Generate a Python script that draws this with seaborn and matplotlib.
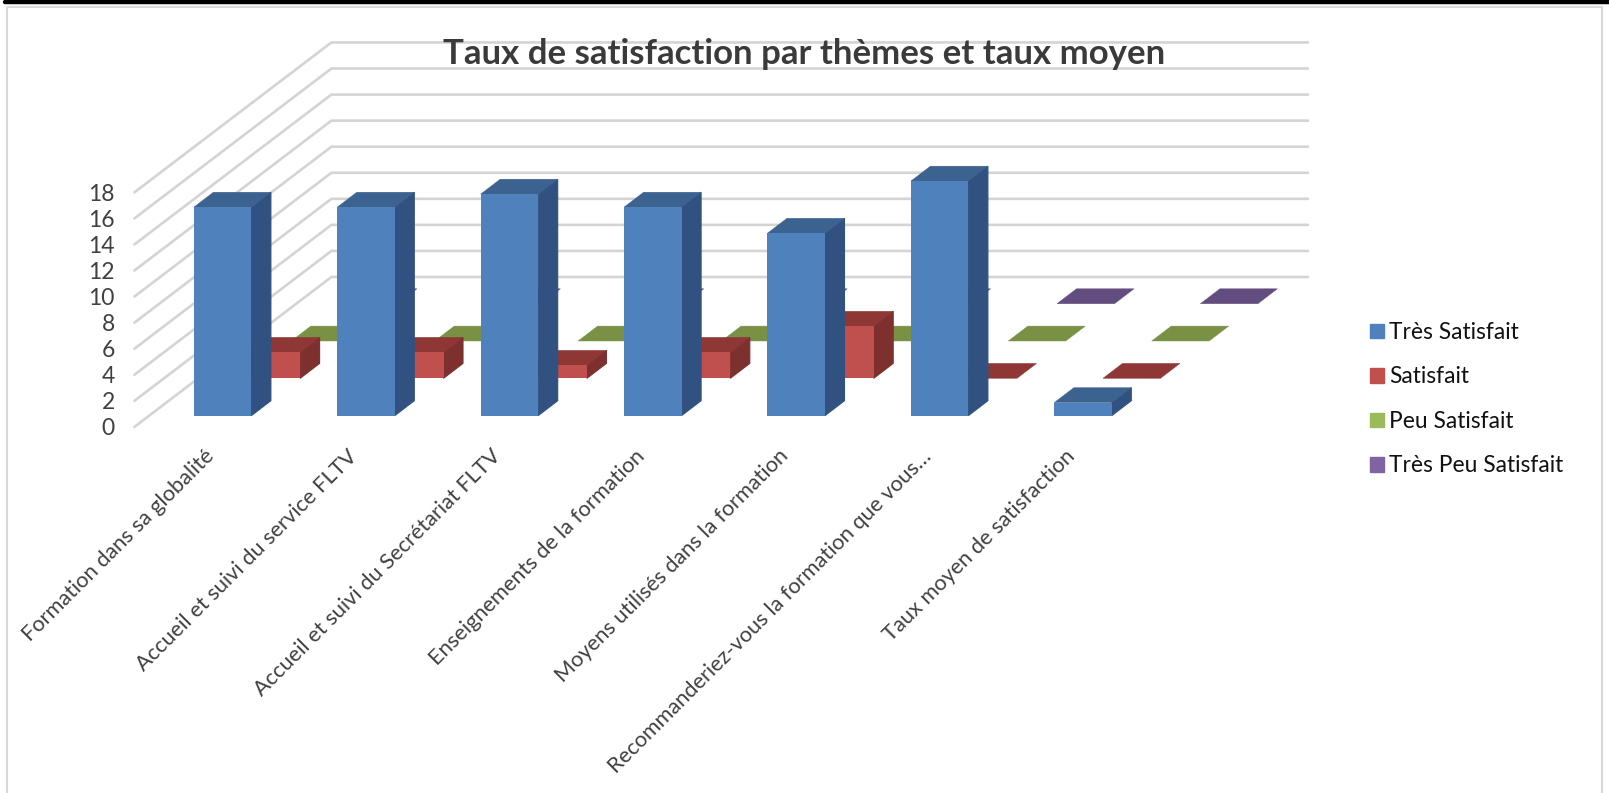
import pandas as pd
import seaborn as sns
import matplotlib
matplotlib.use("Agg")
import matplotlib.pyplot as plt
from matplotlib.patches import Patch

categories = [
    "Formation dans sa globalité",
    "Accueil et suivi du service FLTV",
    "Accueil et suivi du Secrétariat FLTV",
    "Enseignements de la formation",
    "Moyens utilisés dans la formation",
    "Recommanderiez-vous la formation que vous…",
    "Taux moyen de satisfaction",
]
series_names = ["Très Satisfait", "Satisfait", "Peu Satisfait", "Très Peu Satisfait"]
tres_satisfait = [16, 16, 17, 16, 14, 18, 1]
satisfait = [2, 2, 1, 2, 4, 0, 0]
peu_satisfait = [0, 0, 0, 0, 0, 0, 0]
tres_peu_satisfait = [0, 0, 0, 0, 0, 0, 0]
y_ticks = [0, 2, 4, 6, 8, 10, 12, 14, 16, 18]

front_colors = ["#4f81bd", "#c0504d", "#9bbb59", "#8064a2"]
top_colors = ["#3c6290", "#8e3735", "#7a9145", "#634d7e"]
side_colors = ["#315280", "#7d302e", "#66793a", "#54416b"]

W, H = 1609, 793
UNIT = 13.03       # px per value unit
STEP = 143.4       # px per category
BAR_W = 57.5
DEPTH_X, DEPTH_Y = 19.5, 14.9      # bar depth in px
SERIES_X, SERIES_Y = 48.7, 37.3    # shift between series rows


def px_axes(fig, left, top, width, height):
    ax = fig.add_axes([left / W, 1 - (top + height) / H, width / W, height / H])
    ax.patch.set_visible(False)
    sns.despine(ax=ax, left=True, bottom=True)
    return ax


def draw_series(fig, row, values):
    left = 222.65 - STEP / 2 + SERIES_X * row
    base = 415.6 - SERIES_Y * row
    ax = px_axes(fig, left, base - 18 * UNIT, 7 * STEP, 18 * UNIT)
    sns.barplot(x=categories, y=values, color=front_colors[row], saturation=1,
                width=BAR_W / STEP, ax=ax, linewidth=0, clip_on=False)
    ax.set_xlim(-0.5, 6.5)
    ax.set_ylim(0, 18)
    ax.set_yticks([])
    ax.set_ylabel("")
    ax.tick_params(axis="x", length=0)

    # fake the 3D look, right side and top of each bar
    dx = DEPTH_X / STEP
    dy = DEPTH_Y / UNIT
    for bar in list(ax.patches):
        x0 = bar.get_x()
        x1 = x0 + bar.get_width()
        h = bar.get_height()
        if h > 0:
            # thin edge closes the seam against the front face
            ax.fill([x1, x1 + dx, x1 + dx, x1], [0, dy, h + dy, h],
                    color=side_colors[row], lw=0.8, clip_on=False)
        ax.fill([x0, x1, x1 + dx, x0 + dx], [h, h, h + dy, h + dy],
                color=top_colors[row], lw=0.3, clip_on=False)
        bar.set_zorder(3)
    return ax


sns.set_style("white")
plt.rcParams["font.family"] = ["Lato", "DejaVu Sans"]

fig = plt.figure(figsize=(W / 100, H / 100), dpi=100)

# page frame
page = fig.add_axes([0, 0, 1, 1])
page.set_xlim(0, W)
page.set_ylim(H, 0)
page.axis("off")
page.plot([7, 7, 1602, 1602], [H, 7, 7, H], color="#d9d9d9", lw=1.5)
page.plot([5, W], [2, 2], color="black", lw=3.2)

# walls, gridlines go along the floor side then across the back
wall = px_axes(fig, 134.4, 426.9 - 18 * UNIT, W - 134.4, 18 * UNIT)
wall.set_xlim(134.4, W)
wall.set_ylim(0, 18)
wall.set_xticks([])
wall.set_yticks(y_ticks)
wall.tick_params(axis="y", length=0, pad=14, labelsize=16.5, labelcolor="#404040")
rise = 149.9 / UNIT
for v in y_ticks:
    wall.plot([134.4, 331.4, 1308], [v, v + rise, v + rise], color="#d4d4d4",
              lw=1.9, clip_on=False, solid_joinstyle="miter")

# back row first so the front row covers it
draw_series(fig, 3, tres_peu_satisfait).set_xticks([])
draw_series(fig, 2, peu_satisfait).set_xticks([])
draw_series(fig, 1, satisfait).set_xticks([])
front = draw_series(fig, 0, tres_satisfait)
front.set_xticks([i - 0.08 for i in range(len(categories))], labels=categories)
front.tick_params(axis="x", pad=27)
plt.setp(front.get_xticklabels(), rotation=45, ha="right", va="center",
         rotation_mode="anchor", fontsize=15.7, color="#404040")

fig.suptitle("Taux de satisfaction par thèmes et taux moyen", x=804 / W, y=1 - 54 / H,
             va="center", fontsize=25, fontweight="bold", color="#3a3a3a")

handles = [Patch(color=c, label=n) for c, n in zip(front_colors, series_names)]
fig.legend(handles=handles, loc="upper left", bbox_to_anchor=(1370 / W, 1 - 322 / H),
           frameon=False, fontsize=16.4, labelspacing=1.03, handlelength=0.61,
           handleheight=0.61, handletextpad=0.22, borderpad=0, borderaxespad=0,
           labelcolor="#111111")

plt.savefig("out.png", dpi=100)
